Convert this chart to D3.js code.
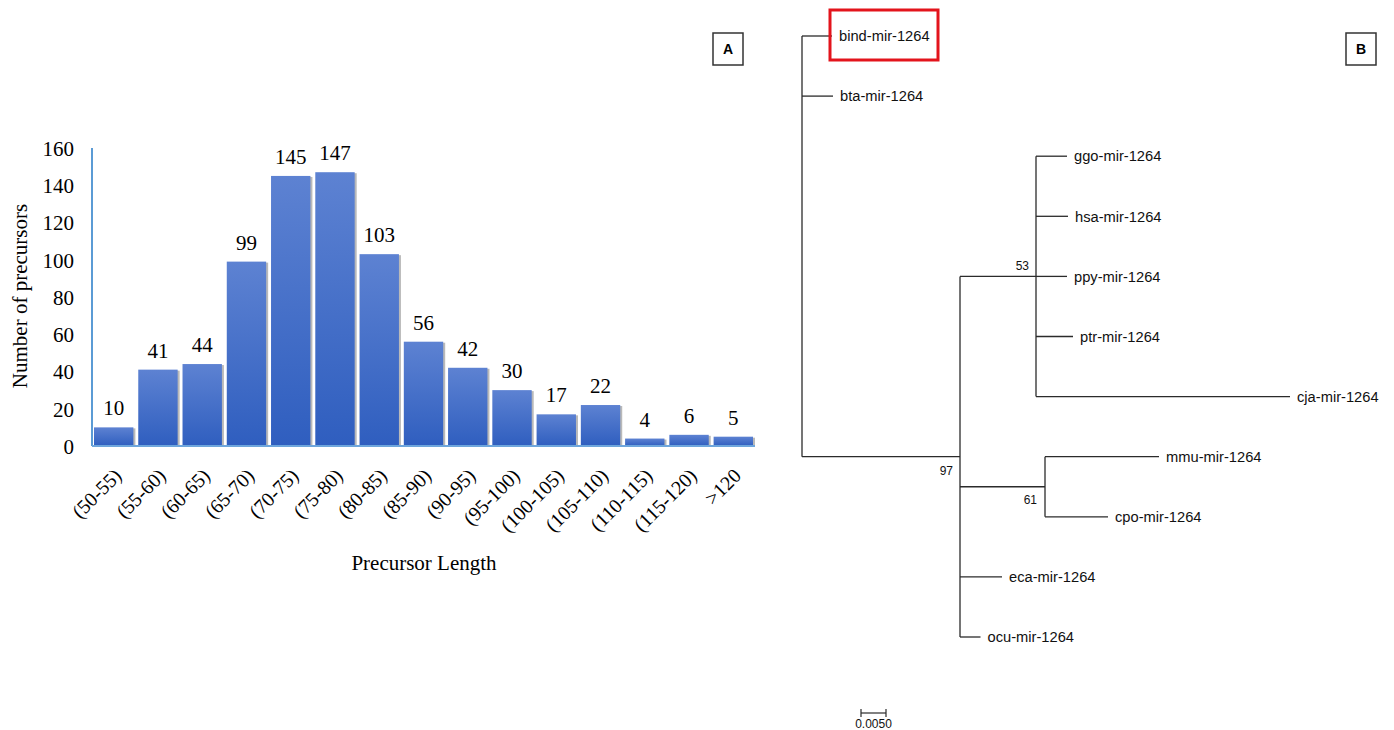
<!DOCTYPE html>
<html>
<head>
<meta charset="utf-8">
<script src="https://cdn.jsdelivr.net/npm/d3@7"></script>
<style>
  html, body { margin: 0; padding: 0; background: #ffffff; }
  svg { display: block; }
</style>
</head>
<body>
<svg id="chart" width="1394" height="730"></svg>
<script>
// ---------------- Panel A data ----------------
const lengthBins = ["(50-55)", "(55-60)", "(60-65)", "(65-70)", "(70-75)", "(75-80)", "(80-85)",
  "(85-90)", "(90-95)", "(95-100)", "(100-105)", "(105-110)", "(110-115)", "(115-120)", ">120"];
const precursorCounts = [10, 41, 44, 99, 145, 147, 103, 56, 42, 30, 17, 22, 4, 6, 5];
const yTickValues = [0, 20, 40, 60, 80, 100, 120, 140, 160];

// ---------------- Panel B data (phylogenetic tree) ----------------
const nodeIds = ["root", "bind-mir-1264", "bta-mir-1264", "n97", "n53", "ggo-mir-1264", "hsa-mir-1264",
  "ppy-mir-1264", "ptr-mir-1264", "cja-mir-1264", "n61", "mmu-mir-1264", "cpo-mir-1264",
  "eca-mir-1264", "ocu-mir-1264"];
const nodeParents = ["", "root", "root", "root", "n97", "n53", "n53", "n53", "n53", "n53", "n97",
  "n61", "n61", "n97", "n97"];
const branchLengths = [0, 0.0060, 0.0062, 0.0316, 0.0152, 0.0062, 0.0064, 0.0062, 0.0074, 0.0508,
  0.0170, 0.0228, 0.0126, 0.0084, 0.0041];
const supportNodes = ["n97", "n53", "n61"];
const supportValues = [97, 53, 61];
const highlightedLeaf = "bind-mir-1264";
const scaleBarLength = 0.005;
const scaleBarLabel = "0.0050";

const svg = d3.select("#chart");

// ================= Panel A: bar chart =================
const serif = "'Liberation Serif', 'Times New Roman', serif";
const x = d3.scaleBand().domain(lengthBins).range([94, 753]).paddingInner(0.11).paddingOuter(0);
const y = d3.scaleLinear().domain([0, 160]).range([446, 148]);

const defs = svg.append("defs");
const grad = defs.append("linearGradient").attr("id", "barGrad")
  .attr("x1", 0).attr("y1", 0).attr("x2", 0).attr("y2", 1);
grad.append("stop").attr("offset", "0%").attr("stop-color", "#5d82d2");
grad.append("stop").attr("offset", "100%").attr("stop-color", "#2f5ebf");

const gA = svg.append("g");

// shadows
gA.selectAll("rect.shadow").data(precursorCounts).join("rect")
  .attr("class", "shadow")
  .attr("x", (d, i) => x(lengthBins[i]) + 2)
  .attr("y", d => y(d) + 1)
  .attr("width", x.bandwidth())
  .attr("height", d => y(0) - y(d) - 1)
  .attr("fill", "#b9b9b9");

gA.selectAll("rect.bar").data(precursorCounts).join("rect")
  .attr("class", "bar")
  .attr("x", (d, i) => x(lengthBins[i]))
  .attr("y", d => y(d))
  .attr("width", x.bandwidth())
  .attr("height", d => y(0) - y(d))
  .attr("fill", "url(#barGrad)");

// axes lines
gA.append("line").attr("x1", 92).attr("x2", 92).attr("y1", y(160)).attr("y2", y(0))
  .attr("stroke", "#5b9bd5").attr("stroke-width", 2);
gA.append("line").attr("x1", 92).attr("x2", 755).attr("y1", y(0)).attr("y2", y(0))
  .attr("stroke", "#6ea6dc").attr("stroke-width", 2);

// y axis via d3 axis
const yAxis = d3.axisLeft(y).tickValues(yTickValues).tickSize(0).tickPadding(0);
const yAx = gA.append("g").attr("transform", "translate(74,0)").call(yAxis);
yAx.select(".domain").remove();
yAx.selectAll("text").attr("font-family", serif).attr("font-size", 21).attr("fill", "#000")
  .attr("dy", "0.35em");

// x axis labels
const xAxis = d3.axisBottom(x).tickSize(0).tickPadding(0);
const xAx = gA.append("g").attr("transform", `translate(0,${y(0)})`).call(xAxis);
xAx.select(".domain").remove();
xAx.selectAll("text")
  .attr("font-family", serif).attr("font-size", 20).attr("fill", "#000")
  .attr("text-anchor", "end")
  .attr("y", 0).attr("dy", 0)
  .attr("transform", "translate(9,31) rotate(-45)");

// value labels
gA.selectAll("text.val").data(precursorCounts).join("text")
  .attr("class", "val")
  .attr("x", (d, i) => x(lengthBins[i]) + x.bandwidth() / 2)
  .attr("y", d => y(d) - 12)
  .attr("text-anchor", "middle")
  .attr("font-family", serif).attr("font-size", 21).attr("fill", "#000")
  .text(d => d);

// axis titles
gA.append("text").attr("transform", "translate(27,296) rotate(-90)")
  .attr("text-anchor", "middle").attr("font-family", serif).attr("font-size", 21)
  .text("Number of precursors");
gA.append("text").attr("x", 424).attr("y", 570)
  .attr("text-anchor", "middle").attr("font-family", serif).attr("font-size", 21)
  .text("Precursor Length");

// panel label boxes
function panelLabel(cx, cy, t) {
  const g = svg.append("g");
  g.append("rect").attr("x", cx - 15).attr("y", cy - 16).attr("width", 30).attr("height", 32)
    .attr("fill", "#fff").attr("stroke", "#333").attr("stroke-width", 1.5);
  g.append("text").attr("x", cx).attr("y", cy).attr("dy", "0.36em").attr("text-anchor", "middle")
    .attr("font-family", "'Liberation Sans', Arial, sans-serif").attr("font-weight", "bold")
    .attr("font-size", 14).text(t);
}
panelLabel(728, 49, "A");
panelLabel(1361, 49, "B");

// ================= Panel B: tree =================
const sans = "'Liberation Sans', Arial, sans-serif";
const table = nodeIds.map((id, i) => ({ id, parent: nodeParents[i] || null, len: branchLengths[i] }));
const root = d3.stratify().id(d => d.id).parentId(d => d.parent)(table);

const tx = d3.scaleLinear().domain([0, 0.1]).range([802, 1302]);
const leaves = root.leaves();
const ty = d3.scaleLinear().domain([0, leaves.length - 1]).range([36, 637]);

root.eachBefore(n => { n.dist = (n.parent ? n.parent.dist : 0) + n.data.len; });
leaves.forEach((l, i) => { l.yy = ty(i); });
root.eachAfter(n => {
  if (n.children) n.yy = (n.children[0].yy + n.children[n.children.length - 1].yy) / 2;
});

const gB = svg.append("g").attr("stroke", "#2b2b2b").attr("stroke-width", 1.3).attr("fill", "none");
root.descendants().forEach(n => {
  if (n.parent) {
    gB.append("line").attr("x1", tx(n.parent.dist)).attr("x2", tx(n.dist))
      .attr("y1", n.yy).attr("y2", n.yy);
  }
  if (n.children) {
    gB.append("line").attr("x1", tx(n.dist)).attr("x2", tx(n.dist))
      .attr("y1", n.children[0].yy).attr("y2", n.children[n.children.length - 1].yy);
  }
});

const gT = svg.append("g");
leaves.forEach(l => {
  gT.append("text").attr("x", tx(l.dist) + 7).attr("y", l.yy).attr("dy", "0.36em")
    .attr("font-family", sans).attr("font-size", 14.7).attr("fill", "#111")
    .text(l.id);
});

// bootstrap values
const supportPlacement = { n97: [-7, 14], n53: [-7, -11], n61: [-8, 13] };
supportNodes.forEach((id, i) => {
  const n = root.find(d => d.id === id);
  const off = supportPlacement[id];
  gT.append("text").attr("x", tx(n.dist) + off[0]).attr("y", n.yy + off[1]).attr("dy", "0.36em")
    .attr("text-anchor", "end").attr("font-family", sans).attr("font-size", 12).attr("fill", "#111")
    .text(supportValues[i]);
});

// highlight box
const hl = root.find(d => d.id === highlightedLeaf);
svg.append("rect").attr("x", tx(hl.dist) - 2).attr("y", hl.yy - 26)
  .attr("width", 108).attr("height", 50)
  .attr("fill", "none").attr("stroke", "#e3141c").attr("stroke-width", 3);

// scale bar
const sbX = 861, sbY = 713;
const sbW = tx(scaleBarLength) - tx(0);
const gS = svg.append("g").attr("stroke", "#2b2b2b").attr("stroke-width", 1.2);
gS.append("line").attr("x1", sbX).attr("x2", sbX + sbW).attr("y1", sbY).attr("y2", sbY);
gS.append("line").attr("x1", sbX).attr("x2", sbX).attr("y1", sbY - 4).attr("y2", sbY + 4);
gS.append("line").attr("x1", sbX + sbW).attr("x2", sbX + sbW).attr("y1", sbY - 4).attr("y2", sbY + 4);
svg.append("text").attr("x", sbX + sbW / 2).attr("y", sbY + 11).attr("dy", "0.36em")
  .attr("text-anchor", "middle").attr("font-family", sans).attr("font-size", 12).attr("fill", "#111")
  .text(scaleBarLabel);
</script>
</body>
</html>
